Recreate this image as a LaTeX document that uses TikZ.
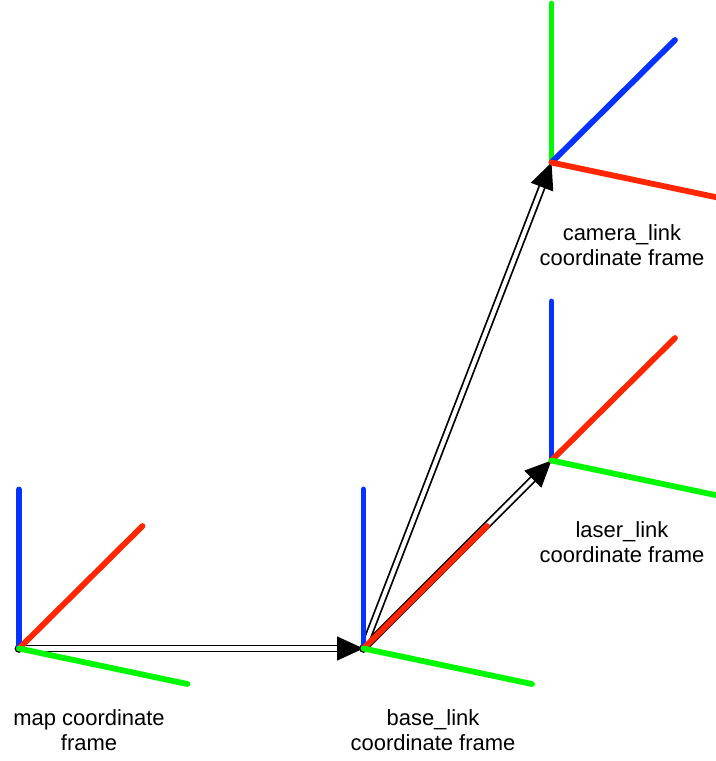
\documentclass[tikz,border=0pt]{standalone}
\usepackage{fontspec}
\setmainfont{Liberation Sans}
\definecolor{axisRed}{RGB}{255, 38, 0}
\definecolor{axisGreen}{RGB}{0, 249, 0}
\definecolor{axisBlue}{RGB}{4, 51, 255}
\usetikzlibrary{arrows.meta}
\tikzset{
    axisline/.style={line width=3.3pt, line cap=round},
    framearrow/.style={draw=black, double=white, line width=1pt, double distance=2.3pt,
        -{Triangle[length=15pt, width=13.5pt]}},
    framelabel/.style={align=center, font=\fontsize{12.5}{14.2}\selectfont},
    origindot/.style={circle, fill=black, inner sep=0pt, minimum size=5pt}
}

\begin{document}
\begin{tikzpicture}[x=0.02cm, y=-0.02cm]
        \clip (0,0) rectangle (716,761);

        % Frame origins
        \node[origindot] (mapDot) at (19,648.5) {};
        \node[origindot] (baseDot) at (363.5,648.5) {};
        \coordinate (map) at (19,648.5);
        \coordinate (base) at (363.5,648.5);
        \coordinate (laser) at (551.5,460.5);
        \coordinate (camera) at (551.5,162.5);

        % Transforms between frames
        \draw[framearrow] (map) -- (base);
        \draw[framearrow] (base) -- (laser);
        \draw[framearrow] (base) -- (camera);

        % Axes of each frame
        \foreach \name/\upcol/\diagcol/\sidecol in {map/axisBlue/axisRed/axisGreen,
                base/axisBlue/axisRed/axisGreen,
                laser/axisBlue/axisRed/axisGreen,
                camera/axisGreen/axisBlue/axisRed} {
            \coordinate (\name Up) at ([yshift=159*0.02cm]\name);
            \coordinate (\name Diag) at ([xshift=123.5*0.02cm, yshift=122.5*0.02cm]\name);
            \coordinate (\name Side) at ([xshift=168.5*0.02cm, yshift=-35.5*0.02cm]\name);
            \draw[axisline, \upcol] (\name) -- (\name Up);
            \draw[axisline, \diagcol] (\name) -- (\name Diag);
            \draw[axisline, \sidecol] (\name) -- (\name Side);
        }

        % Labels
        \node[framelabel] (mapLabel) at (89,730.5) {map coordinate\\frame};
        \node[framelabel] (baseLabel) at (433,730.5) {base\_link\\coordinate frame};
        \node[framelabel] (laserLabel) at (622,542.5) {laser\_link\\coordinate frame};
        \node[framelabel] (cameraLabel) at (622,245.5) {camera\_link\\coordinate frame};
    \end{tikzpicture}
\end{document}
